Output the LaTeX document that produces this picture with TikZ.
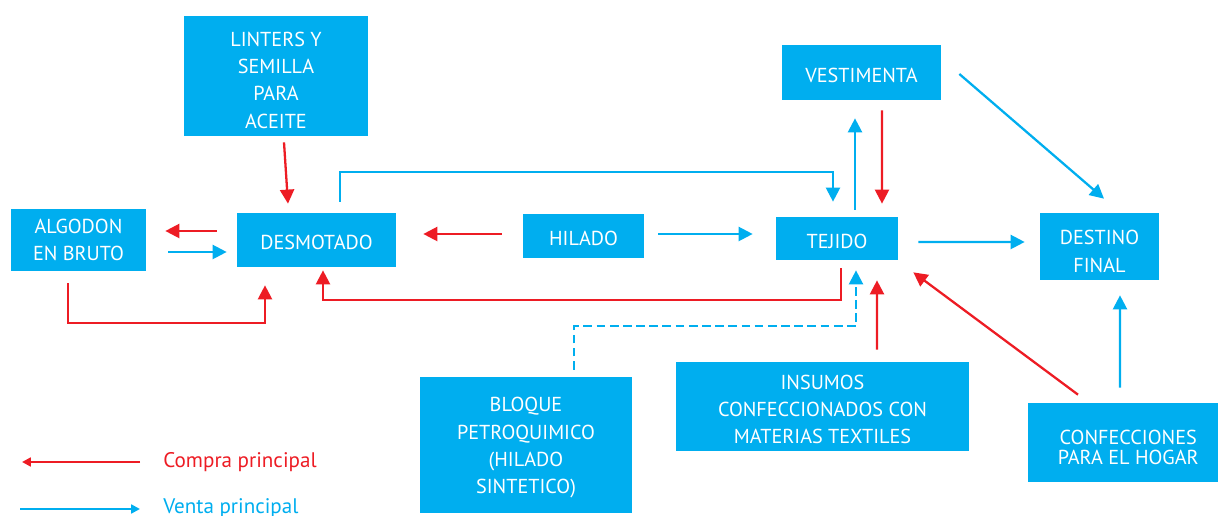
\documentclass[tikz,border=0pt]{standalone}
\usepackage{fontspec}
\setsansfont{PT Sans}
\usetikzlibrary{arrows.meta,calc}
\definecolor{azul}{RGB}{0,174,239}
\definecolor{rojo}{RGB}{237,28,36}
\newcommand{\baja}[1]{\rule{0pt}{#1}}
\tikzset{
	box/.style={fill=azul, text=white, align=center, inner sep=0pt, font=\sffamily\fontsize{11.5}{15.6}\selectfont},
	compra/.style={draw=rojo, line width=1.3pt, -{Triangle[length=8pt,width=8pt]}},
	venta/.style={draw=azul, line width=1.3pt, -{Triangle[length=8pt,width=8pt]}},
	leyenda/.style={anchor=west, inner sep=0pt, font=\sffamily\fontsize{12}{14}\selectfont},
}
\begin{document}
\begin{tikzpicture}[x=0.02cm, y=-0.02cm]
	\useasboundingbox (0,0) rectangle (1218,516);
	\node[box, minimum width=3.68cm, minimum height=2.4cm] (lint) at (276,76) {\baja{13pt}LINTERS Y\\SEMILLA\\PARA\\ACEITE};
	\node[box, minimum width=2.7cm, minimum height=1.24cm] (alg) at (78.5,240) {ALGODON\\EN BRUTO};
	\node[box, minimum width=3.18cm, minimum height=1.08cm] (desm) at (316.5,240) {\baja{11.5pt}DESMOTADO};
	\node[box, minimum width=2.42cm, minimum height=0.88cm] (hil) at (583.5,236) {\baja{11.5pt}HILADO};
	\node[box, minimum width=2.44cm, minimum height=0.86cm] (tej) at (837,238.5) {\baja{11.5pt}TEJIDO};
	\node[box, minimum width=3.18cm, minimum height=1.1cm] (vest) at (861.5,72.5) {\baja{11.5pt}VESTIMENTA};
	\node[box, minimum width=2.38cm, minimum height=1.34cm] (dest) at (1099.5,246.5) {\baja{14pt}DESTINO\\FINAL};
	\node[box, minimum width=4.24cm, minimum height=2.72cm] (bloq) at (526,445) {\baja{11.5pt}BLOQUE\\PETROQUIMICO\\(HILADO\\SINTETICO)};
	\node[box, minimum width=5.86cm, minimum height=1.78cm] (ins) at (822.5,406.5) {\baja{11.5pt}INSUMOS\\CONFECCIONADOS CON\\MATERIAS TEXTILES};
	\node[box, minimum width=3.8cm, minimum height=1.58cm] (conf) at (1123,442.5) {\baja{14pt}\hspace*{6pt}CONFECCIONES\\[-4pt]\hspace*{6pt}PARA EL HOGAR};

	\draw[compra] ($(lint.south)+(8,6)$) -- ($(desm.north)+(-28.5,-9)$);
	\draw[compra] ($(desm.west)+(-20,-9)$) -- ($(alg.east)+(19,-9)$);
	\draw[venta] ($(alg.east)+(22,12)$) -- ($(desm.west)+(-10,12)$);
	\draw[compra] ($(alg.south)+(-10.5,12)$) |- ($(desm.south)+(-51.5,56)$) -- ($(desm.south)+(-51.5,18)$);
	\draw[venta] ($(desm.north)+(23.5,-11)$) |- ($(tej.north)+(-4,-45)$) -- ($(tej.north)+(-4,-15)$);
	\draw[compra] ($(hil.west)+(-21,-2)$) -- ($(desm.east)+(27,-6)$);
	\draw[venta] ($(hil.east)+(14,-2)$) -- ($(tej.west)+(-23,-4.5)$);
	\draw[compra] ($(tej.south)+(4,8)$) |- ($(desm.south)+(6.5,33)$) -- ($(desm.south)+(6.5,3)$);
	\draw[venta, dash pattern=on 5pt off 2.5pt] ($(bloq.north)+(48,-7)$) |- ($(tej.south)+(19,66)$) -- ($(tej.south)+(19,10)$);
	\draw[compra] ($(ins.north)+(54.5,-12)$) -- ($(tej.south)+(40,20)$);
	\draw[venta] ($(tej.north)+(18,-7)$) -- ($(vest.south)+(-6.5,18)$);
	\draw[compra] ($(vest.south)+(20.5,10)$) -- ($(tej.north)+(45,-13)$);
	\draw[venta] ($(vest.east)+(18,1.5)$) -- ($(dest.north)+(4.5,-14)$);
	\draw[venta] ($(tej.east)+(20,3.5)$) -- ($(dest.west)+(-15,-4.5)$);
	\draw[compra] ($(conf.north)+(-45,-8)$) -- ($(tej.south east)+(15,12)$);
	\draw[venta] ($(conf.north)+(-3,-15)$) -- ($(dest.south)+(20.5,15)$);

	\node[leyenda, text=rojo] (comp) at (163,462) {Compra principal};
	\node[leyenda, text=azul] (vent) at (163,508) {Venta principal};
	\draw[compra, -{Triangle[length=5pt,width=5pt]}] ($(comp.west)+(-23,0)$) -- ++(-118,0);
	\draw[venta, -{Triangle[length=5pt,width=5pt]}] ($(vent.west)+(-143,1)$) -- ++(120,0);
\end{tikzpicture}
\end{document}
